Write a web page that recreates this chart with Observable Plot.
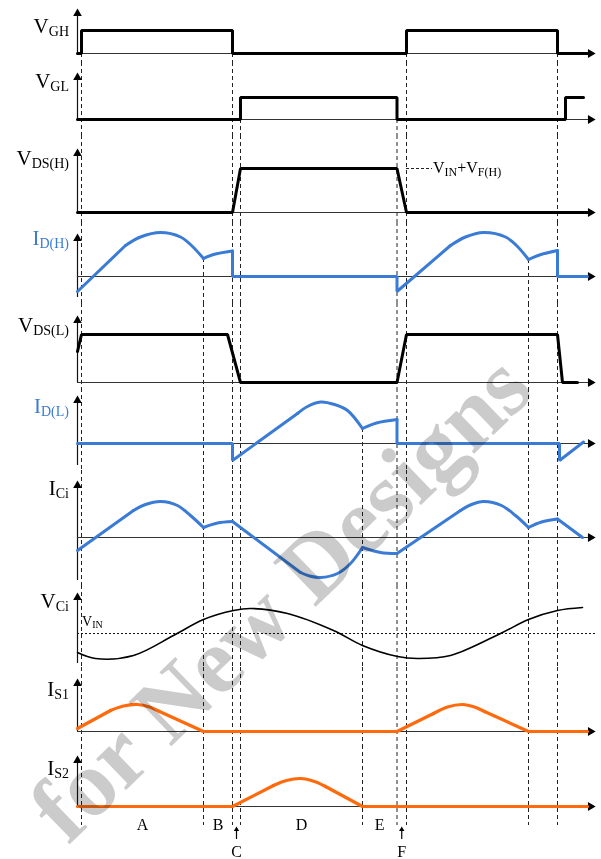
<!DOCTYPE html>
<html>
<head>
<meta charset="utf-8">
<script src="https://cdn.jsdelivr.net/npm/d3@7"></script>
<script src="https://cdn.jsdelivr.net/npm/@observablehq/plot@0.6"></script>
<style>
html,body{margin:0;padding:0;background:#fff;}
#wrap{position:relative;width:601px;height:859px;overflow:hidden;background:#fff;}
#wrap svg{position:absolute;left:0;}
</style>
</head>
<body>
<div id="wrap"></div>
<script>
// ---------------- DATA ----------------
// time in arbitrary units along the horizontal axis
const tEnd = 518;
// switching instants (dashed markers)
const tEdges = [4, 126, 155, 163, 285, 319.5, 329, 451, 480];
// operating intervals
const phaseNames = ["A", "B", "C", "D", "E", "F"];
const phaseBounds = [4, 126, 155, 163, 285, 319.5, 329];

// waveforms: pieces of ["line" | "arc", [t, value], ...]
const vGH = [["line", [0,0],[4,0],[4,23],[155,23],[155,0],[329,0],[329,23],[480,23],[480,0],[510,0]]];
const vGL = [["line", [0,0],[163,0],[163,22],[319.5,22],[319.5,0],[488,0],[488,22],[506,22]]];
const vDSH = [["line", [0,0],[155,0],[163,44],[319.5,44],[329,0],[510,0]]];
const iDH = [
  ["line", [0,-15],[48,31]],
  ["arc",  [48,31],[63,39.5],[83,44],[103,39.5],[114,31],[126,18]],
  ["arc",  [126,18],[136,22],[155,25.5]],
  ["line", [155,25.5],[155,0],[319.5,0],[319.5,-15],[373,31]],
  ["arc",  [373,31],[388,39.5],[406,44],[428,39.5],[439,31],[451,17]],
  ["arc",  [451,17],[462,21.5],[480,26]],
  ["line", [480,26],[480,0],[510,0]]
];
const vDSL = [["line", [0,31],[4,48],[150,48],[163,0],[319.5,0],[329,48],[480,48],[485,0],[500,0]]];
const iDL = [
  ["line", [0,0],[155,0],[155,-17],[220,30]],
  ["arc",  [220,30],[230,37],[243,41.5],[257,39],[270,33],[285,15]],
  ["arc",  [285,15],[299,20.5],[319.5,24]],
  ["line", [319.5,24],[319.5,0],[482,0],[482,-17],[506,1.5]]
];
const iCi = [
  ["line", [0,-13],[56,27]],
  ["arc",  [56,27],[68,33],[83,36],[100,32],[113,22],[126,10]],
  ["arc",  [126,10],[140,14.5],[155,16]],
  ["line", [155,16],[223,-35]],
  ["arc",  [223,-35],[232,-38.5],[243,-40],[260,-36],[273,-26],[285,-10]],
  ["arc",  [285,-10],[303,-15],[319.5,-16]],
  ["line", [319.5,-16],[383,27]],
  ["arc",  [383,27],[394,33],[406,36],[424,32],[438,22],[451,10]],
  ["arc",  [451,10],[464,15.5],[480,18.5]],
  ["line", [480,18.5],[505,0]]
];
const vCi = [["arc", [0,-19],[18,-25],[56,-22],[96,-2],[126,14],[156,23],[173,25],[210,20],[256,3],[285,-12],[320,-23],[340,-25],[373,-22],[423,0],[451,14],[480,23],[505,26]]];
const iS1 = [
  ["line", [0,3],[33,21]],
  ["arc",  [33,21],[46,25.5],[60,27],[72,24.5],[82,20]],
  ["line", [82,20],[126,0],[319.5,0],[356,18]],
  ["arc",  [356,18],[370,24.5],[385,27],[397,24.5],[407,20]],
  ["line", [407,20],[451,0],[510,0]]
];
const iS2 = [
  ["line", [0,0],[155,0],[196,21]],
  ["arc",  [196,21],[209,26],[223,28],[237,25],[248,20]],
  ["line", [248,20],[285,0],[510,0]]
];

// ---------------- STYLE / LAYOUT ----------------
const BLACK = "#000", BLUE = "#3a7bd5", ORANGE = "#ff6a0d";
const SERIF = "Liberation Serif, Times New Roman, serif";
const panels = [
  {main:"V", sub:"GH",    wave:vGH,  color:BLACK,  sw:3,   top:0,   bottom:62,  base:53,  tip:8,   low:53,  labelY:33},
  {main:"V", sub:"GL",    wave:vGL,  color:BLACK,  sw:3,   top:62,  bottom:135, base:119, tip:72,  low:119, labelY:88},
  {main:"V", sub:"DS(H)", wave:vDSH, color:BLACK,  sw:3,   top:135, bottom:222, base:212, tip:148, low:212, labelY:165},
  {main:"I", sub:"D(H)",  wave:iDH,  color:BLUE,   sw:3,   top:222, bottom:303, base:276, tip:233, low:297, labelY:245, labelColor:BLUE},
  {main:"V", sub:"DS(L)", wave:vDSL, color:BLACK,  sw:3,   top:303, bottom:388, base:382, tip:315, low:382, labelY:332},
  {main:"I", sub:"D(L)",  wave:iDL,  color:BLUE,   sw:3,   top:388, bottom:470, base:443, tip:395, low:465, labelY:413, labelColor:BLUE},
  {main:"I", sub:"Ci",    wave:iCi,  color:BLUE,   sw:3,   top:470, bottom:585, base:537, tip:480, low:580, labelY:495},
  {main:"V", sub:"Ci",    wave:vCi,  color:BLACK,  sw:1.6, top:585, bottom:667, base:633, tip:592, low:663, labelY:608, dotted:true},
  {main:"I", sub:"S1",    wave:iS1,  color:ORANGE, sw:3.2, top:667, bottom:745, base:731, tip:678, low:731, labelY:696},
  {main:"I", sub:"S2",    wave:iS2,  color:ORANGE, sw:3.2, top:745, bottom:859, base:806, tip:755, low:806, labelY:775}
];
// panel in which each dashed marker begins
const dashStartPanel = {4:0, 155:0, 329:0, 480:0, 163:1, 319.5:1, 126:3, 451:3, 285:5};
const dashBottomY = 825;

function rows(wave, kind) {
  const out = [];
  wave.forEach((pc, i) => {
    if (pc[0] !== kind) return;
    pc.slice(1).forEach(([t, v]) => out.push({t, v, seg: i}));
  });
  return out;
}
function valueAt(wave, t) {
  let best = Infinity;
  wave.forEach(pc => pc.slice(1).forEach(([tt, v]) => { if (tt === t && v < best) best = v; }));
  return best === Infinity ? 0 : best;
}

const wrap = document.getElementById("wrap");
const last = panels.length - 1;

panels.forEach((p, pi) => {
  const h = p.bottom - p.top;
  const yMin = p.base - p.bottom, yMax = p.base - p.top;
  const tipV = p.base - p.tip, lowV = p.base - p.low;

  const dashes = tEdges
    .filter(t => dashStartPanel[t] <= pi)
    .map(t => ({
      t,
      y1: dashStartPanel[t] === pi ? valueAt(panels[dashStartPanel[t]].wave, t) : yMax,
      y2: pi === last ? p.base - dashBottomY : yMin
    }));

  const marks = [
    Plot.ruleX(dashes, {x: "t", y1: "y1", y2: "y2", stroke: "#222", strokeWidth: 1, strokeDasharray: "4,3"}),
    Plot.ruleX([0], {y1: lowV, y2: tipV - 5, stroke: "#111", strokeWidth: 1.2}),
    Plot.dot([[0, tipV]], {symbol: "triangle", r: 3.2, fill: "#000", stroke: "none", dy: 5})
  ];
  if (p.dotted) {
    marks.push(Plot.ruleY([0], {x1: 0, x2: tEnd + 2, stroke: "#111", strokeWidth: 1, strokeDasharray: "2,2"}));
  } else {
    marks.push(Plot.ruleY([0], {x1: 0, x2: tEnd - 5, stroke: "#333", strokeWidth: 1.2}));
    marks.push(Plot.dot([[tEnd, 0]], {symbol: "triangle", r: 3.3, rotate: 90, fill: "#000", stroke: "none", dx: -5}));
  }
  marks.push(Plot.line(rows(p.wave, "line"), {x: "t", y: "v", z: "seg", stroke: p.color, strokeWidth: p.sw, curve: "linear", strokeLinejoin: "miter", strokeLinecap: "round"}));
  marks.push(Plot.line(rows(p.wave, "arc"), {x: "t", y: "v", z: "seg", stroke: p.color, strokeWidth: p.sw, curve: "catmull-rom", strokeLinecap: "round"}));

  if (pi === 2) {
    marks.push(Plot.ruleY([44], {x1: 329, x2: 355, stroke: "#222", strokeWidth: 1, strokeDasharray: "3,2"}));
  }
  if (pi === last) {
    const phases = phaseNames.map((n, i) => {
      const a = phaseBounds[i], b = phaseBounds[i + 1];
      return {n, t: (a + b) / 2, narrow: b - a < 15};
    });
    const wide = phases.filter(d => !d.narrow), narrow = phases.filter(d => d.narrow);
    marks.push(Plot.text(wide, {x: "t", y: p.base - 829, text: "n", fontFamily: SERIF, fontSize: 16, fill: "#000", lineAnchor: "bottom"}));
    marks.push(Plot.text(narrow, {x: "t", y: p.base - 856, text: "n", fontFamily: SERIF, fontSize: 16, fill: "#000", lineAnchor: "bottom"}));
    marks.push(Plot.ruleX(narrow, {x: "t", y1: p.base - 839, y2: p.base - 829, stroke: "#000", strokeWidth: 1.2}));
    marks.push(Plot.dot(narrow, {x: "t", y: p.base - 826, symbol: "triangle", r: 2, fill: "#000", stroke: "none", dy: 3}));
  }

  const chart = Plot.plot({
    width: 601, height: h,
    marginLeft: 77, marginRight: 6, marginTop: 0, marginBottom: 0,
    x: {domain: [0, tEnd], axis: null},
    y: {domain: [yMin, yMax], axis: null},
    style: {background: "transparent", overflow: "visible"},
    marks
  });
  chart.style.top = p.top + "px";
  wrap.appendChild(chart);

  const svg = d3.select(chart);
  const label = svg.append("text")
    .attr("x", 69).attr("y", p.labelY - p.top)
    .attr("text-anchor", "end").attr("font-family", SERIF)
    .attr("fill", p.labelColor || BLACK);
  label.append("tspan").attr("font-size", 21).text(p.main);
  label.append("tspan").attr("font-size", 14).attr("dy", 3).text(p.sub);

  const xs = chart.scale("x"), ys = chart.scale("y");
  if (pi === 2) {
    const t = svg.append("text").attr("x", xs.apply(356)).attr("y", ys.apply(44) + 5)
      .attr("text-anchor", "start").attr("font-family", SERIF).attr("fill", "#000");
    t.append("tspan").attr("font-size", 16).text("V");
    t.append("tspan").attr("font-size", 12).attr("dy", 3).text("IN");
    t.append("tspan").attr("font-size", 16).attr("dy", -3).text("+V");
    t.append("tspan").attr("font-size", 12).attr("dy", 3).text("F(H)");
  }
  if (p.dotted) {
    const t = svg.append("text").attr("x", xs.apply(5)).attr("y", ys.apply(7))
      .attr("text-anchor", "start").attr("font-family", SERIF).attr("fill", "#000");
    t.append("tspan").attr("font-size", 14).text("V");
    t.append("tspan").attr("font-size", 10).attr("dy", 2).text("IN");
  }
});

// watermark overlay
const wm = d3.select(wrap).append("svg")
  .attr("width", 601).attr("height", 859)
  .style("top", "0px").style("pointer-events", "none").style("mix-blend-mode", "multiply");
wm.append("text")
  .attr("transform", "translate(302,620) rotate(-44)")
  .attr("text-anchor", "middle")
  .attr("font-family", SERIF).attr("font-weight", "bold").attr("font-size", 94)
  .attr("fill", "#cbcbcb")
  .text("for New Designs");
</script>
</body>
</html>
